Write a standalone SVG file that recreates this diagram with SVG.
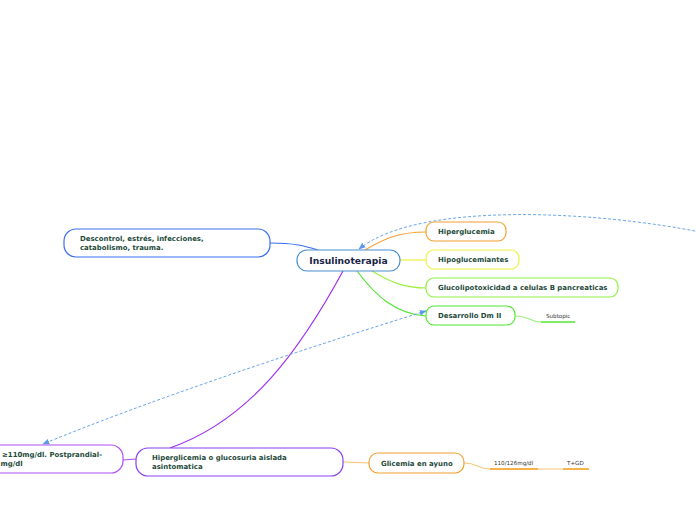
<svg xmlns="http://www.w3.org/2000/svg" width="696" height="520" viewBox="0 0 696 520">
<style>
.n{fill:#fff;stroke-width:1.2}
.t{font-family:"DejaVu Sans",Verdana,sans-serif;font-weight:bold;font-size:6.95px;fill:#1d4a3a}
.s{font-family:"DejaVu Sans",Verdana,sans-serif;font-size:5.6px;fill:#333}
.c{fill:none;stroke-width:1.2}
.d{fill:none;stroke:#5a9ae6;stroke-width:0.9;stroke-dasharray:3 2}
</style>
<defs>
<marker id="ah" viewBox="0 0 10 10" refX="9" refY="5" markerWidth="7" markerHeight="7" orient="auto-start-reverse" markerUnits="userSpaceOnUse">
<path d="M0,1 L10,5 L0,9 Z" fill="#5a9ae6"/>
</marker>
</defs>
<g id="connectors">
<path class="c" stroke="#3b6ff0" d="M270,243 C295,243 305,246 318,250"/>
<path class="c" stroke="#f5a030" d="M365,250 C385,238 400,232 426,232"/>
<path class="c" stroke="#f0f040" d="M400,260 L426,260"/>
<path class="c" stroke="#a0f040" d="M372,271 C390,282 405,288 426,288"/>
<path class="c" stroke="#50e830" d="M357,271 C375,295 395,314 426,316"/>
<path class="c" stroke="#a030f0" d="M343,271 C300,350 250,420 170,448"/>
<path class="c" stroke="#b050f0" d="M136,459 L123,460"/>
<path class="c" stroke="#f5c070" d="M343,462 L369,463"/>
<path class="c" stroke="#f5c880" stroke-width="0.9" d="M464,463 C478,463 478,469 490,469 L563,469"/>
<path class="c" stroke="#a8f090" stroke-width="0.9" d="M515,316 C530,316 530,322 541,322"/>
<path d="M490,469 L538,469" stroke="#f5a020" stroke-width="1.6"/>
<path d="M563,469 L589,469" stroke="#f5a020" stroke-width="1.6"/>
<path d="M541,322 L575,322" stroke="#50e830" stroke-width="1.6"/>
<path class="d" marker-end="url(#ah)" d="M700,232 C600,212 420,200 359,249"/>
<path class="d" marker-start="url(#ah)" marker-end="url(#ah)" d="M426,311 C300,350 150,400 43,444"/>
</g>
<g id="insulinoterapia">
<rect class="n" x="297" y="250" width="103" height="21" rx="10" stroke="#4a90d0"/>
<text x="348.5" y="264" text-anchor="middle" style="font-family:'DejaVu Sans',Verdana,sans-serif;font-weight:bold;font-size:9.2px;fill:#1a2548">Insulinoterapia</text>
</g>
<g id="descontrol">
<rect class="n" x="64" y="229" width="206" height="28" rx="12" stroke="#3b6ff0"/>
<text class="t" x="80" y="241">Descontrol, estrés, infecciones,</text>
<text class="t" x="80" y="250">catabolismo, trauma.</text>
</g>
<g id="hiperglucemia">
<rect class="n" x="426" y="222" width="80" height="19" rx="8" stroke="#f5a030"/>
<text class="t" x="438" y="234">Hiperglucemia</text>
</g>
<g id="hipoglucemiantes">
<rect class="n" x="426" y="250" width="93" height="19" rx="8" stroke="#f0f040"/>
<text class="t" x="438" y="262">Hipoglucemiantes</text>
</g>
<g id="glucolipotoxicidad">
<rect class="n" x="426" y="278" width="192" height="19" rx="8" stroke="#90f040"/>
<text class="t" x="438" y="290">Glucolipotoxicidad a celulas B pancreaticas</text>
</g>
<g id="desarrollo">
<rect class="n" x="426" y="306" width="89" height="19" rx="8" stroke="#50e830"/>
<text class="t" x="438" y="318">Desarrollo Dm II</text>
</g>
<g id="subtopic">
<text class="s" x="546" y="318">Subtopic</text>
</g>
<g id="hiperglicemia">
<rect class="n" x="136" y="448" width="207" height="28" rx="12" stroke="#8a40f0"/>
<text class="t" x="152" y="460">Hiperglicemia o glucosuria aislada</text>
<text class="t" x="152" y="469">asintomatica</text>
</g>
<g id="postprandial">
<rect class="n" x="-60" y="445" width="183" height="28" rx="12" stroke="#b050f0"/>
<text class="t" x="2" y="457">≥110mg/dl. Postprandial-</text>
<text class="t" x="0.5" y="466">mg/dl</text>
</g>
<g id="glicemia">
<rect class="n" x="369" y="453" width="95" height="20" rx="9" stroke="#f5a030"/>
<text class="t" x="381" y="466">Glicemia en ayuno</text>
</g>
<g id="v110">
<text class="s" x="494" y="465">110/126mg/dl</text>
</g>
<g id="tgd">
<text class="s" x="567" y="465">T+GD</text>
</g>
</svg>
